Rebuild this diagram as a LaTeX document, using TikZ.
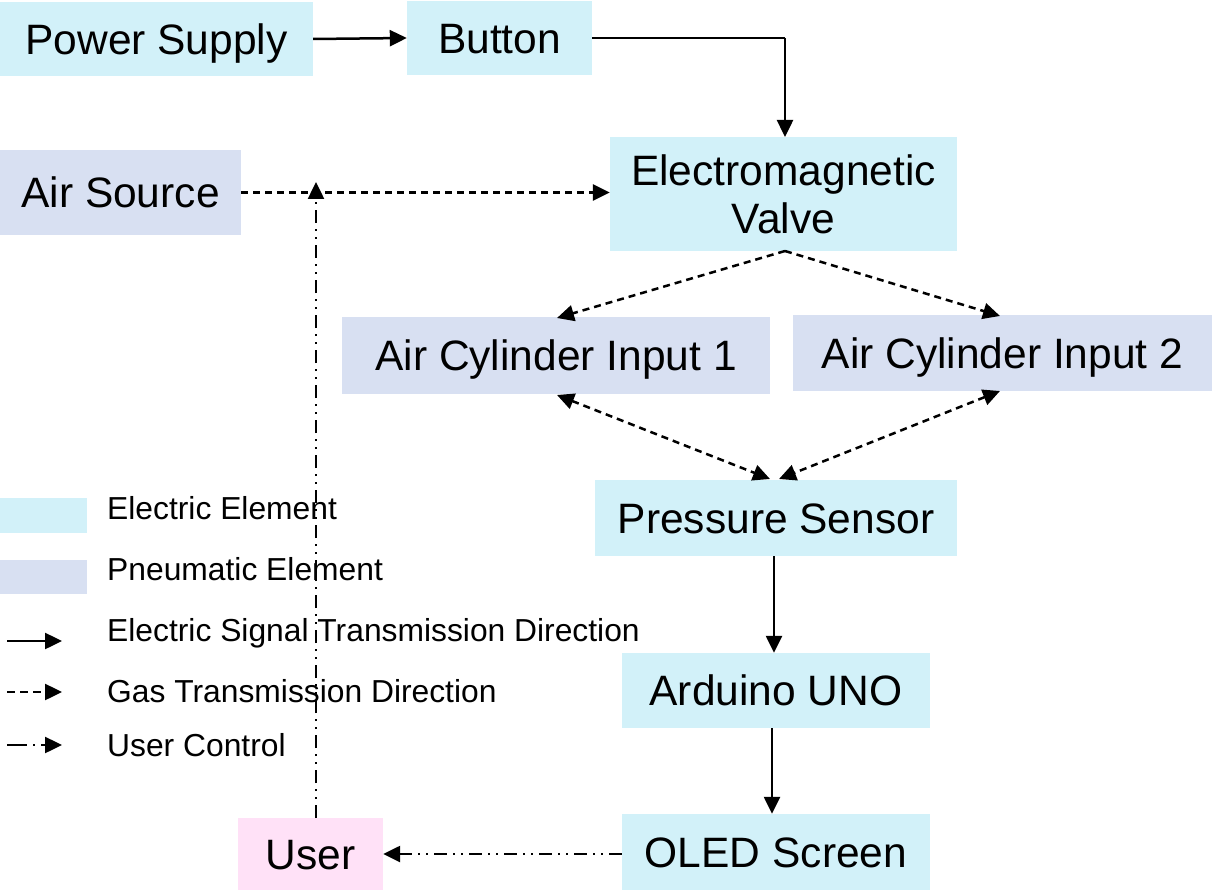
\documentclass[tikz,border=0pt]{standalone}
\usepackage{fontspec}
\setmainfont{Liberation Sans}
\usetikzlibrary{arrows.meta}
\definecolor{elec}{HTML}{D2F1F9}
\definecolor{pneu}{HTML}{D8E0F2}
\definecolor{usr}{HTML}{FFE1F7}
\tikzset{
  box/.style={inner sep=0pt, anchor=center, font=\fontsize{42.5}{48}\selectfont, align=center},
  one/.style={text height=30.4pt, text depth=0pt},
  ebox/.style={box, fill=elec},
  pbox/.style={box, fill=pneu},
  ubox/.style={box, fill=usr},
  tip/.style={-{Triangle[length=17pt,width=16pt]}},
  sig/.style={line width=2.5pt, tip},
  gas/.style={line width=2.5pt, tip, dash pattern=on 7pt off 5pt},
  ctl/.style={line width=2.5pt, tip, dash pattern=on 13pt off 6pt on 2pt off 6pt on 2pt off 6pt},
  legtxt/.style={anchor=base west, inner sep=0pt, font=\fontsize{31.8}{36}\selectfont},
}
\begin{document}
\begin{tikzpicture}[x=1pt,y=-1pt]
\useasboundingbox (0,0) rectangle (1212,893);
% boxes
\node[ebox, one, minimum width=313, minimum height=74] (ps) at (156.5,39) {Power Supply};
\node[ebox, one, minimum width=185, minimum height=74] (bt) at (499.5,38) {Button};
\node[pbox, one, minimum width=241, minimum height=85] (as) at (120.5,192.5) {Air Source};
\node[ebox, minimum width=347, minimum height=114] (ev) at (783.5,194) {Electromagnetic\\Valve};
\node[pbox, one, minimum width=428, minimum height=77] (c1) at (556,355.5) {Air Cylinder Input 1};
\node[pbox, one, minimum width=419, minimum height=76] (c2) at (1002.5,353) {Air Cylinder Input 2};
\node[ebox, one, minimum width=362, minimum height=76] (pr) at (776,518) {Pressure Sensor};
\node[ebox, one, minimum width=308, minimum height=75] (ar) at (776,690.5) {Arduino UNO};
\node[ebox, one, minimum width=308, minimum height=76] (ol) at (776,852) {OLED Screen};
\node[ubox, one, minimum width=145, minimum height=72] (us) at (310.5,854) {User};
% coordinates
\coordinate (btc) at (785,38);
\coordinate (evt) at (785,137);
\coordinate (evb) at (785,251);
\coordinate (c1t) at (557,318);
\coordinate (c2t) at (1000,316);
\coordinate (c1b) at (557,395);
\coordinate (c2b) at (1000,391);
\coordinate (prl) at (770,479);
\coordinate (prr) at (779,479);
\coordinate (ust) at (316,818);
\coordinate (uup) at (316,182);
% connectors
\draw[sig] (ps.east) -- (bt.west);
\draw[line width=1.5pt] (bt.east |- btc) -- (btc);
\draw[sig] (btc) -- (evt);
\draw[gas] (as.east) -- (ev.west |- as.east);
\draw[gas] (evb) -- (c1t);
\draw[gas] (evb) -- (c2t);
\draw[gas, {Triangle[length=17pt,width=16pt]}-{Triangle[length=17pt,width=16pt]}] (c1b) -- (prl);
\draw[gas, {Triangle[length=17pt,width=16pt]}-{Triangle[length=17pt,width=16pt]}] (c2b) -- (prr);
\draw[sig] (pr.south -| 774,0) -- (ar.north -| 774,0);
\draw[sig] (ar.south -| 772,0) -- (ol.north -| 772,0);
\draw[ctl] (ol.west |- 0,854) -- (us.east |- 0,854);
\draw[ctl] (ust) -- (uup);
% legend
\node[fill=elec, minimum width=87, minimum height=35, inner sep=0pt] (le) at (43.5,515.5) {};
\node[fill=pneu, minimum width=87, minimum height=34, inner sep=0pt] (lp) at (43.5,577) {};
\node[legtxt] (lt1) at (107,519) {Electric Element};
\node[legtxt] (lt2) at (107,580) {Pneumatic Element};
\node[legtxt] (lt3) at (107,641) {Electric Signal Transmission Direction};
\node[legtxt] (lt4) at (107,702) {Gas Transmission Direction};
\node[legtxt] (lt5) at (107,756) {User Control};
\coordinate (l3a) at (7,641); \coordinate (l3b) at (62,641);
\coordinate (l4a) at (7,692); \coordinate (l4b) at (62,692);
\coordinate (l5a) at (7,745); \coordinate (l5b) at (62,745);
\draw[sig] (l3a) -- (l3b);
\draw[gas, dash pattern=on 8pt off 5pt] (l4a) -- (l4b);
\draw[ctl, dash pattern=on 20pt off 6pt on 2pt off 6pt] (l5a) -- (l5b);
\end{tikzpicture}
\end{document}
